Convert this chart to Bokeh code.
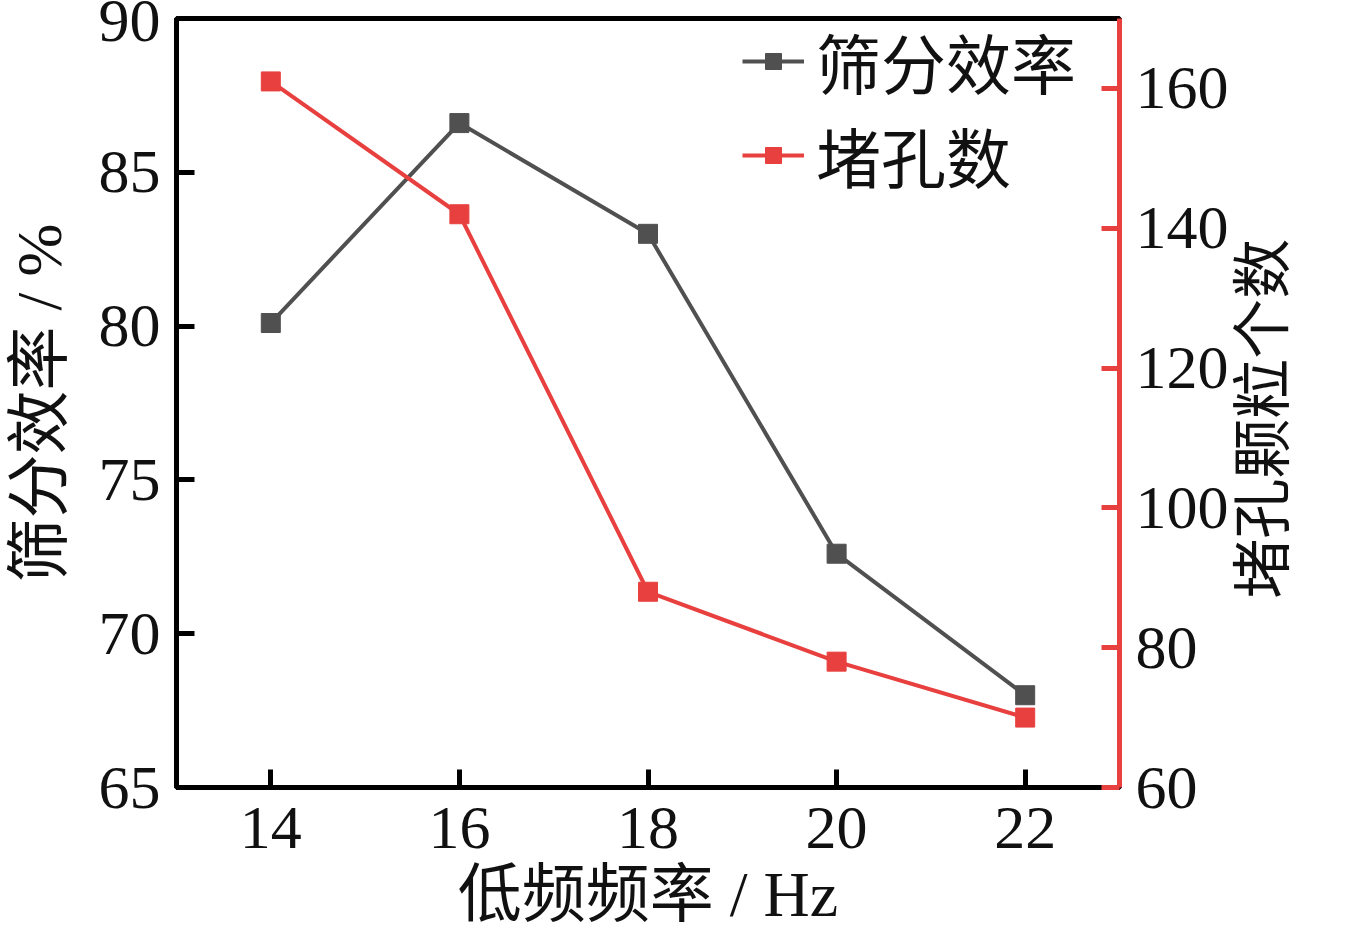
import numpy as np
from bokeh.plotting import figure
from bokeh.models import Range1d, LinearAxis, Legend, LegendItem, FixedTicker
from bokeh.embed import file_html
from bokeh.resources import INLINE

freq = [14, 16, 18, 20, 22]
efficiency = [80.1, 86.6, 83.0, 72.6, 68.0]
blocked = [161, 142, 88, 78, 70]
x_ticks = [14, 16, 18, 20, 22]
y_ticks = [65, 70, 75, 80, 85, 90]
y2_ticks = [60, 80, 100, 120, 140, 160]
y2_title = "堵孔颗粒个数"
y2_title_anchor = 87

FONT = "Liberation Serif, Times New Roman, Noto Sans CJK SC"
GRAY = "#505050"
RED = "#e8403f"
FS = "62px"
FS_CJK = "64px"

p = figure(width=1333, height=932,
           min_border_left=175, min_border_right=214, min_border_top=18, min_border_bottom=145,
           x_range=Range1d(13, 23), y_range=Range1d(65, 90),
           output_backend="svg", toolbar_location=None)
p.extra_y_ranges = {"y2": Range1d(60, 170)}
p.grid.visible = False
p.outline_line_color = "black"
p.outline_line_width = 5
p.background_fill_color = "white"
p.border_fill_color = "white"

def style_axis(ax, color):
    ax.axis_line_color = color
    ax.axis_line_width = 5
    ax.major_tick_line_color = color
    ax.major_tick_line_width = 5
    ax.major_tick_in = 18
    ax.major_tick_out = 0
    ax.minor_tick_line_color = None
    ax.major_label_text_font = FONT
    ax.major_label_text_font_size = FS
    ax.major_label_text_color = "#111111"
    ax.axis_label_text_font = FONT
    ax.axis_label_text_font_size = FS_CJK
    ax.axis_label_text_font_style = "normal"
    ax.axis_label_text_color = "#111111"

xa = p.xaxis[0]
style_axis(xa, "black")
xa.ticker = FixedTicker(ticks=x_ticks)
xa.major_label_standoff = 20
xa.axis_label = "低频频率 / Hz"
xa.axis_label_standoff = 8

ya = p.yaxis[0]
style_axis(ya, "black")
ya.ticker = FixedTicker(ticks=y_ticks)
ya.axis_label = "筛分效率 / %"
ya.major_label_standoff = 16
ya.axis_label_standoff = 21

y2 = LinearAxis(y_range_name="y2", ticker=FixedTicker(ticks=y2_ticks))
style_axis(y2, RED)
y2.major_label_standoff = 16
p.add_layout(y2, "right")

# right-hand axis title (reads bottom-to-top), drawn as a rotated tick label
y2t = LinearAxis(y_range_name="y2", ticker=FixedTicker(ticks=[y2_title_anchor]),
                 major_label_overrides={y2_title_anchor: y2_title})
y2t.axis_line_color = None
y2t.major_tick_line_color = None
y2t.minor_tick_line_color = None
y2t.major_tick_in = 0
y2t.major_tick_out = 0
y2t.major_label_orientation = np.pi / 2
y2t.major_label_text_font = FONT
y2t.major_label_text_font_size = "60px"
y2t.major_label_text_color = "#111111"
y2t.major_label_standoff = 33
p.add_layout(y2t, "right")

l1 = p.line(freq, efficiency, line_color=GRAY, line_width=4)
s1 = p.scatter(freq, efficiency, marker="square", size=19, fill_color=GRAY, line_color=GRAY)
l2 = p.line(freq, blocked, line_color=RED, line_width=4, y_range_name="y2")
s2 = p.scatter(freq, blocked, marker="square", size=19, fill_color=RED, line_color=RED, y_range_name="y2")

legend = Legend(items=[LegendItem(label="筛分效率", renderers=[l1, s1]),
                       LegendItem(label="堵孔数", renderers=[l2, s2])],
                location=(566, 585))
legend.border_line_color = None
legend.background_fill_alpha = 0
legend.label_text_font = FONT
legend.label_text_font_size = "65px"
legend.label_text_color = "#111111"
legend.glyph_width = 62
legend.glyph_height = 40
legend.label_standoff = 12
legend.spacing = 0
legend.padding = 0
legend.margin = 0
p.add_layout(legend)

open("out.html", "w").write(file_html(p, INLINE))
